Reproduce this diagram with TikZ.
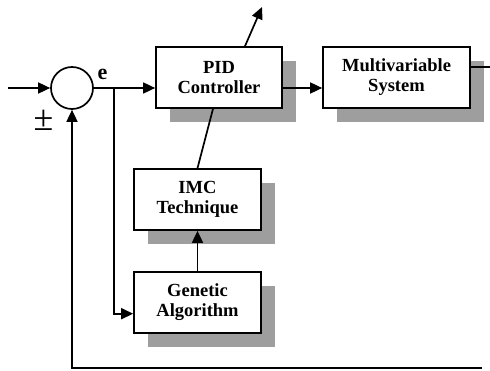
\documentclass[tikz,border=0pt]{standalone}
\usepackage{fontspec}
\setmainfont{Liberation Serif}
\usetikzlibrary{positioning,arrows.meta,shadows}

\begin{document}
\begin{tikzpicture}[x=1pt,y=-1pt,
  block/.style={rectangle,draw,black,fill=white,line width=1.7pt,minimum height=61pt,
    align=center,font=\fontsize{18.5}{20}\selectfont\bfseries,
    drop shadow={shadow xshift=14pt,shadow yshift=-14pt,fill=black!38,opacity=1}},
  line/.style={line width=1.7pt},
  arr/.style={line width=1.7pt,-{Triangle[length=12pt,width=11pt]}}]
\useasboundingbox (0,0) rectangle (490,371);

% summing point
\node[circle,draw,line width=1.7pt,minimum size=42pt,inner sep=0pt](sum) at (72,88){};
\node[font=\fontsize{22}{22}\selectfont\bfseries](e) at (102.5,74){e};
\node[font=\fontsize{36}{36}\selectfont](pm) at (43.5,120){±};

% blocks
\node[block,minimum width=126pt](pid) at (219,77.5){PID\\Controller};
\node[block,minimum width=147pt](sys) at (396.5,77.5){Multivariable\\System};
\node[block,minimum width=127pt](imc) at (197.5,199.5){IMC\\Technique};
\node[block,minimum width=127pt,below =40pt of imc](ga){Genetic\\Algorithm};

% free ends
\coordinate (in) at (8,88);
\coordinate (br) at (114,88);
\coordinate (up) at (262,7);
\coordinate (out) at (490,67);
\coordinate (fb) at (482,368);

\draw[arr] (in) -- (sum.west);
\draw[arr] (sum.east) -- (sum.east -| pid.west);
\draw[arr] (sum.east -| pid.east) -- (sum.east -| sys.west);
\draw[line] (sys.east |- out) -- (out);
\draw[arr] ([xshift=26pt]pid.north) -- (up);
\draw[line] (imc.north) -- ([xshift=-6pt]pid.south);
\draw[arr] (ga.north) -- (imc.south);
\draw[arr] (br) |- ([yshift=-11.5pt]ga.west);
\draw[arr] (fb) -| (sum.south);

\end{tikzpicture}
\end{document}
